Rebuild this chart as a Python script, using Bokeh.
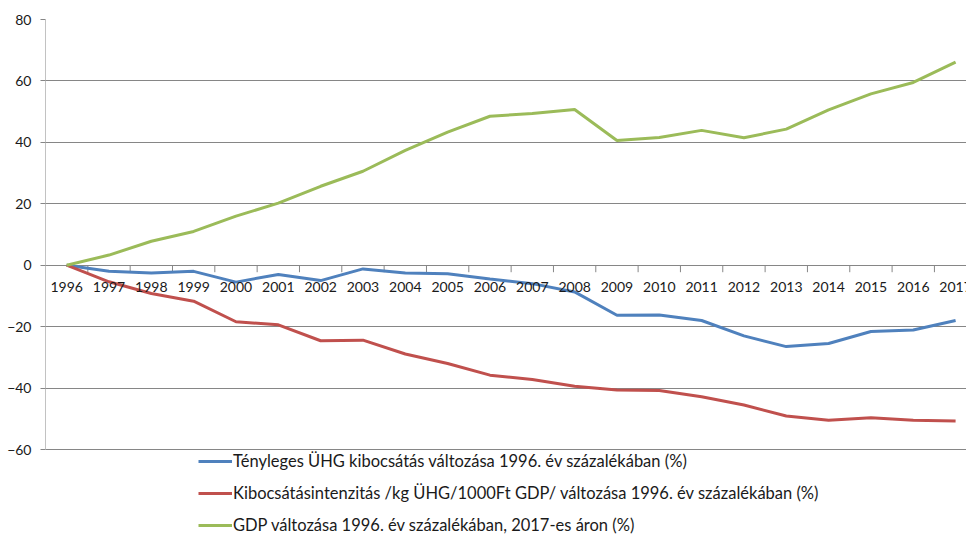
from bokeh.plotting import figure
from bokeh.models import Range1d, FixedTicker, Legend, LegendItem
from bokeh.core.properties import value
from bokeh.embed import file_html
from bokeh.resources import INLINE

years = list(range(1996, 2018))
year_labels = [str(y) for y in years]

emission = [0, -2.0, -2.5, -2.0, -5.5, -3.0, -5.0, -1.2, -2.5, -2.8, -4.5,
            -6.0, -8.7, -16.3, -16.2, -18.0, -23.0, -26.5, -25.5, -21.6, -21.1, -18.0]
intensity = [0, -5.4, -9.2, -11.7, -18.4, -19.4, -24.6, -24.4, -28.9, -32.0, -35.8,
             -37.2, -39.4, -40.6, -40.8, -42.8, -45.5, -49.1, -50.5, -49.7, -50.5, -50.7]
gdp = [0, 3.3, 7.8, 11.0, 16.0, 20.2, 25.7, 30.6, 37.4, 43.3, 48.5,
       49.4, 50.7, 40.6, 41.6, 43.9, 41.5, 44.3, 50.6, 55.8, 59.5, 66.1]

series_names = [
    "Tényleges ÜHG kibocsátás változása 1996. év százalékában (%)",
    "Kibocsátásintenzitás /kg ÜHG/1000Ft GDP/ változása 1996. év százalékában (%)",
    "GDP változása 1996. év százalékában, 2017-es áron (%)",
]
series_colors = ["#4F81BD", "#C0504D", "#9BBB59"]
y_ticks = [-60, -40, -20, 0, 20, 40, 60, 80]

FONT = "Lato"
TXT = "#1a1a1a"
GRID = "#868686"

W, H = 966, 535
LEFT, TOP = 45, 19
PLOT_H = 430                      # pixel height from 80 to -60
px_per_unit = PLOT_H / (max(y_ticks) - min(y_ticks))
y_bottom = min(y_ticks) - (H - TOP - PLOT_H) / px_per_unit
px_per_year = 42.33
x_left = years[0] - 0.5
x_right = x_left + (W - LEFT) / px_per_year

p = figure(width=W, height=H, output_backend="svg", toolbar_location=None,
           x_range=Range1d(x_left, x_right), y_range=Range1d(y_bottom, max(y_ticks)),
           min_border_left=LEFT, min_border_right=0, min_border_top=TOP,
           min_border_bottom=0, x_axis_location=None)
p.outline_line_color = None
p.background_fill_color = "white"
p.border_fill_color = "white"

p.xgrid.visible = False
p.ygrid.ticker = FixedTicker(ticks=y_ticks)
p.ygrid.grid_line_color = GRID
p.ygrid.grid_line_width = 1

# vertical axis line (only over the value range)
p.segment(x0=[x_left], y0=[min(y_ticks)], x1=[x_left], y1=[max(y_ticks)],
          line_color=GRID, line_width=1)

# category tick marks on the zero line, between the years
bounds = [y + 0.5 for y in years]
tick_len = 7 / px_per_unit
p.segment(x0=bounds, y0=[0] * len(bounds), x1=bounds, y1=[-tick_len] * len(bounds),
          line_color=GRID, line_width=1)

renderers = []
for vals, col in zip([emission, intensity, gdp], series_colors):
    r = p.line(years, vals, line_color=col, line_width=3)
    renderers.append(r)

# year labels just below the zero line
p.text(x=years, y=[0] * len(years), text=year_labels, y_offset=22,
       text_align="center", text_baseline="middle",
       text_font=value(FONT), text_font_size="14px", text_color=TXT)

ya = p.yaxis[0]
ya.ticker = FixedTicker(ticks=y_ticks)
ya.major_tick_out = 5
ya.major_tick_in = 0
ya.minor_tick_out = 0
ya.minor_tick_in = 0
ya.major_tick_line_color = GRID
ya.axis_line_color = None
ya.major_label_standoff = 9
ya.major_label_text_font = FONT
ya.major_label_text_font_size = "14px"
ya.major_label_text_color = TXT

legend = Legend(items=[LegendItem(label=n, renderers=[r]) for n, r in zip(series_names, renderers)],
                location=(153, 0), orientation="vertical",
                label_text_font=FONT, label_text_font_size="16.5px", label_text_color=TXT,
                glyph_width=34, glyph_height=18, label_height=18, label_standoff=1,
                spacing=12, padding=0, margin=0,
                border_line_color=None, background_fill_alpha=0)
p.add_layout(legend)

open("out.html", "w").write(file_html(p, INLINE))
